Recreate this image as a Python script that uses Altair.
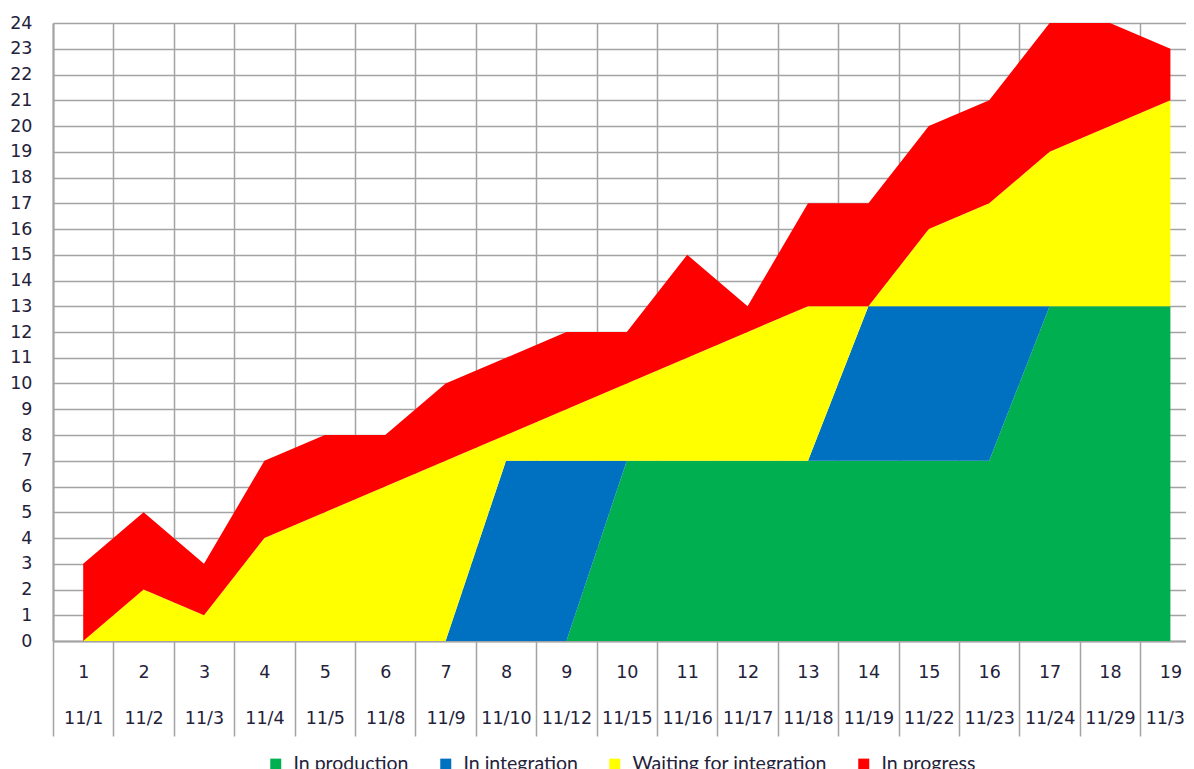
import altair as alt
import pandas as pd

# ---- data ----
days = list(range(1, 20))
dates = ["11/1", "11/2", "11/3", "11/4", "11/5", "11/8", "11/9", "11/10", "11/12",
         "11/15", "11/16", "11/17", "11/18", "11/19", "11/22", "11/23", "11/24",
         "11/29", "11/30"]
in_production = [0, 0, 0, 0, 0, 0, 0, 0, 0, 7, 7, 7, 7, 7, 7, 7, 13, 13, 13]
in_integration = [0, 0, 0, 0, 0, 0, 0, 7, 7, 0, 0, 0, 0, 6, 6, 6, 0, 0, 0]
waiting = [0, 2, 1, 4, 5, 6, 7, 1, 2, 3, 4, 5, 6, 0, 3, 4, 6, 7, 8]
in_progress = [3, 3, 2, 3, 3, 2, 3, 3, 3, 2, 4, 1, 4, 4, 4, 4, 5, 4, 2]

series = ["In production", "In integration", "Waiting for integration", "In progress"]
colors = ["#00B050", "#0070C0", "#FFFF00", "#FF0000"]
y_ticks = list(range(0, 25))

rows = []
for i, d in enumerate(days):
    for k, vals in enumerate([in_production, in_integration, waiting, in_progress]):
        rows.append({"day": d, "series": series[k], "order": k, "value": vals[i]})
df = pd.DataFrame(rows)

# x axis: separators at the column boundaries, two-line labels centred in columns
x_boundaries = [d - 0.5 for d in days]
label_pairs = ",".join(f"['{d}','{dt}']" for d, dt in zip(days, dates))
label_expr = f"[{label_pairs}][floor(datum.value)]"

GRID = "#a3a3a3"
TXT = "#24223a"

area = alt.Chart(df).mark_area(clip=True, interpolate="linear").encode(
    x=alt.X(
        "day:Q",
        scale=alt.Scale(domain=[0.5, 19.258], nice=False, zero=False),
        axis=alt.Axis(
            values=x_boundaries, labelExpr=label_expr, title=None,
            grid=True, gridColor=GRID, gridWidth=1.5,
            ticks=True, tickSize=95, tickColor=GRID, tickWidth=1.5,
            domainColor=GRID, domainWidth=2,
            labelPadding=-73, labelOffset=30.2, labelLineHeight=46,
            labelFont="DejaVu Sans", labelFontSize=17.5, labelColor=TXT,
            labelAlign="center", labelBaseline="top",
            labelOverlap=False, labelBound=False, labelFlush=False,
        ),
    ),
    y=alt.Y(
        "value:Q", stack="zero",
        scale=alt.Scale(domain=[0, 24], nice=False),
        axis=alt.Axis(
            values=y_ticks, title=None, grid=True, gridColor=GRID, gridWidth=1.5,
            ticks=False, domainColor=GRID, domainWidth=2, labelPadding=21,
            labelFont="DejaVu Sans", labelFontSize=17.5, labelColor=TXT,
            labelOverlap=False,
        ),
    ),
    color=alt.Color(
        "series:N",
        scale=alt.Scale(domain=series, range=colors),
        legend=alt.Legend(
            orient="none", legendX=213, legendY=731, direction="horizontal",
            columns=4, title=None, symbolType="square", symbolSize=121,
            symbolStrokeWidth=0, symbolOpacity=1, labelFont="Lato", labelFontSize=19.5,
            labelColor=TXT, columnPadding=27, labelOffset=8, padding=0,
            labelLimit=400,
        ),
    ),
    order=alt.Order("order:Q", sort="ascending"),
)

chart = area.properties(
    width=1133, height=618,
    padding={"left": 45, "top": 15, "right": 0, "bottom": 128},
    autosize=alt.AutoSizeParams(type="none"),
    background="white",
).configure_view(strokeWidth=0)

chart.save("out.html", embed_options={"renderer": "svg", "actions": False})
